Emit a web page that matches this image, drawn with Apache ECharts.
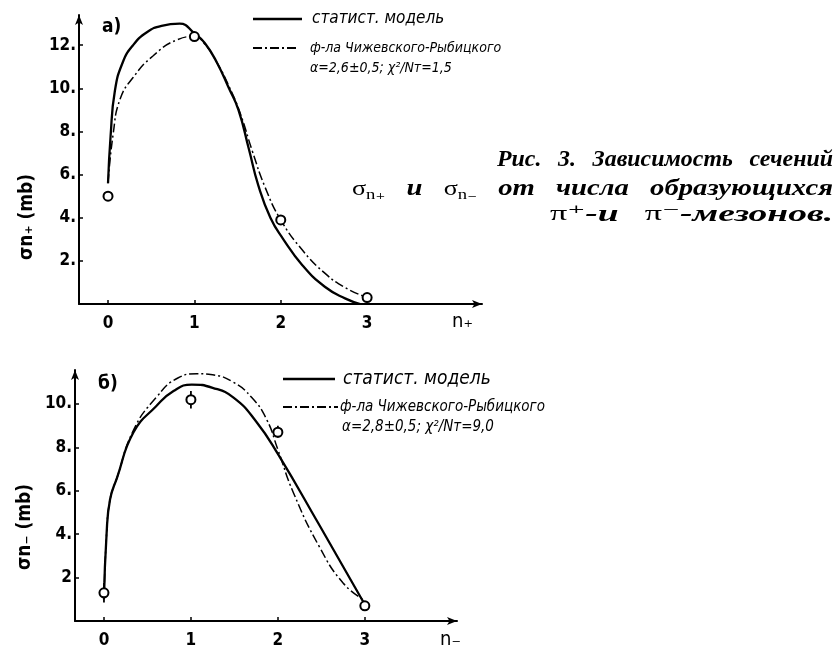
<!DOCTYPE html>
<html><head><meta charset="utf-8">
<script src="https://cdn.jsdelivr.net/npm/echarts@6/dist/echarts.min.js"></script>
<style>html,body{margin:0;padding:0;background:#fff}#c{width:840px;height:654px}</style>
</head><body><div id="c"></div>
<script>
// ---- data ----
const xTicks = [0, 1, 2, 3];
const yTicksTop = [2, 4, 6, 8, 10, 12];
const yTicksBot = [2, 4, 6, 8, 10];

// panel a) sigma_{n+}
const topPoints = [[0, 5.0], [1, 12.4], [2, 3.9], [3, 0.3]];
const topModel = [[0, 5.6], [0.03, 7.8], [0.08, 9.9], [0.17, 11.2], [0.29, 12.0], [0.45, 12.6], [0.62, 12.9], [0.83, 13.0], [1.0, 12.55], [1.12, 12.1], [1.26, 11.2], [1.4, 10.0], [1.51, 9.0], [1.63, 7.2], [1.74, 5.5], [1.88, 4.0], [2.03, 3.0], [2.25, 1.8], [2.51, 0.8], [2.75, 0.25], [2.92, 0.0]];
const topFormula = [[0, 5.6], [0.06, 7.9], [0.14, 9.5], [0.29, 10.5], [0.52, 11.5], [0.8, 12.25], [1.0, 12.4], [1.12, 12.05], [1.26, 11.2], [1.4, 10.1], [1.53, 8.85], [1.67, 7.1], [1.82, 5.4], [2.0, 3.9], [2.25, 2.5], [2.51, 1.43], [2.75, 0.75], [3.0, 0.3]];

// panel б) sigma_{n-}
const botPoints = [[0, 1.3], [1, 10.2], [2, 8.7], [3, 0.7]];
const botErrors = [[0, 0.85, 1.75], [1, 9.8, 10.6], [2, 8.45, 9.0]];
const botModel = [[0, 1.0], [0.03, 4.0], [0.07, 5.6], [0.15, 6.6], [0.34, 8.7], [0.6, 9.9], [0.8, 10.6], [1.01, 10.9], [1.25, 10.75], [1.49, 10.3], [1.75, 9.2], [2.0, 7.7], [2.48, 4.4], [2.98, 0.9]];
const botFormula = [[0, 1.0], [0.03, 4.0], [0.07, 5.6], [0.15, 6.6], [0.34, 8.8], [0.6, 10.3], [0.85, 11.2], [1.07, 11.4], [1.25, 11.35], [1.49, 11.0], [1.7, 10.3], [1.87, 9.3], [2.0, 7.9], [2.18, 5.9], [2.48, 3.4], [2.75, 1.75], [2.98, 1.0]];

// caption text (word groups)
const captionLine1 = [['Рис.'], ['3.'], ['Зависимость'], ['сечений']];
const captionLine2 = [['σ', 'n₊'], ['и'], ['σ', 'n₋'], ['от'], ['числа'], ['образующихся']];
const captionLine3 = [['π⁺', '-и'], ['π⁻', '-мезонов.']];

// ---- chart ----
const DASHDOT = [9, 3, 2, 3];
const numFont = '"Liberation Sans Narrow","DejaVu Sans Condensed",sans-serif';
const handFont = '"DejaVu Sans Condensed","DejaVu Sans",sans-serif';
const capFont = '"Liberation Serif","DejaVu Serif",serif';

function xAx(gi, min, max) {
  return {
    type: 'value', gridIndex: gi, min: min, max: max,
    splitLine: { show: false },
    axisLine: { onZero: false, symbol: ['none', 'arrow'], symbolSize: [6, 10], lineStyle: { color: '#000', width: 2 } },
    axisTick: { inside: true, length: 4, customValues: xTicks, lineStyle: { color: '#000', width: 1.5 } },
    axisLabel: { customValues: xTicks, margin: 11, color: '#000', fontFamily: numFont, fontSize: 17, fontWeight: 'bold' }
  };
}
function yAx(gi, max, ticks, fmt) {
  return {
    type: 'value', gridIndex: gi, min: 0, max: max,
    splitLine: { show: false },
    axisLine: { onZero: false, symbol: ['none', 'arrow'], symbolSize: [6, 10], lineStyle: { color: '#000', width: 2 } },
    axisTick: { inside: true, length: 4, customValues: ticks, lineStyle: { color: '#000', width: 1.5 } },
    axisLabel: { customValues: ticks, margin: 3, color: '#000', fontFamily: numFont, fontSize: 17, fontWeight: 'bold', formatter: fmt }
  };
}
function errBars(xi, yi, data) {
  return {
    type: 'custom', xAxisIndex: xi, yAxisIndex: yi, data: data, z: 3,
    renderItem: function (params, api) {
      const p1 = api.coord([api.value(0), api.value(1)]);
      const p2 = api.coord([api.value(0), api.value(2)]);
      return { type: 'line', shape: { x1: p1[0], y1: p1[1], x2: p2[0], y2: p2[1] }, style: { stroke: '#000', lineWidth: 1.8 } };
    }
  };
}
function curve(xi, yi, data, dashed) {
  return {
    type: 'line', xAxisIndex: xi, yAxisIndex: yi, data: data, showSymbol: false,
    smooth: 0.5, z: 2,
    lineStyle: { color: '#000', width: dashed ? 1.5 : 2.3, type: dashed ? DASHDOT : 'solid' }
  };
}
function pts(xi, yi, data) {
  return {
    type: 'scatter', xAxisIndex: xi, yAxisIndex: yi, data: data, symbol: 'circle', symbolSize: 9, z: 5,
    itemStyle: { color: '#fff', borderColor: '#000', borderWidth: 2, opacity: 1 }
  };
}

function txt(x, y, s, size, extra) {
  return { type: 'text', x: x, y: y, style: Object.assign({ text: s, fontSize: size, verticalAlign: 'middle', fill: '#000', fontFamily: handFont, fontStyle: 'italic' }, extra || {}) };
}
function seg(x1, x2, y, dashed) {
  return { type: 'line', shape: { x1: x1, y1: y, x2: x2, y2: y }, style: { stroke: '#000', lineWidth: dashed ? 1.8 : 2.3, lineDash: dashed ? DASHDOT : null } };
}

// caption layout: word groups with spacing, the line stretched to its width in the figure
const mctx = document.createElement('canvas').getContext('2d');
const boldSpec = { fontSize: 23, fontFamily: capFont, fontWeight: 'bold', fontStyle: 'italic' };
const romSpec = { fontSize: 21, fontFamily: capFont, fontWeight: 'normal', fontStyle: 'normal' };
const subSpec = { fontSize: 15, fontFamily: capFont, fontWeight: 'normal', fontStyle: 'normal' };
function cssFont(s) { return s.fontStyle + ' ' + s.fontWeight + ' ' + s.fontSize + 'px ' + s.fontFamily; }
function measure(t, s) { mctx.font = cssFont(s); return mctx.measureText(t).width; }
function stretchLine(groups, specsFor, x0, x1, y, gapPx) {
  const items = [];
  let off = 0;
  groups.forEach(function (g, gi) {
    if (gi > 0) off += gapPx;
    g.forEach(function (t, i) {
      const sp = specsFor(g, i);
      items.push({ t: t, sp: sp, off: off });
      off += measure(t, sp.spec);
    });
  });
  const s = (x1 - x0) / off;
  return items.map(function (it) {
    return { type: 'text', x: x0 + it.off * s, y: y + (it.sp.dy || 0), scaleX: s,
      style: Object.assign({ text: it.t, fill: '#000', verticalAlign: 'middle' }, it.sp.spec) };
  });
}
const cap1 = stretchLine(captionLine1, function () { return { spec: boldSpec }; }, 497, 833, 160, 16);
const cap2 = stretchLine(captionLine2, function (g, i) {
  if (g.length === 2) return i === 0 ? { spec: romSpec } : { spec: subSpec, dy: 6 };
  return { spec: boldSpec };
}, 352, 833, 189, 17);
const cap3 = stretchLine(captionLine3, function (g, i) { return i === 0 ? { spec: romSpec, dy: -1 } : { spec: boldSpec }; }, 550, 833, 215, 16);

const chart = echarts.init(document.getElementById('c'), null, { renderer: 'canvas' });
chart.setOption({
  animation: false,
  backgroundColor: '#fff',
  grid: [
    { left: 79, right: 358, top: 15, bottom: 350 },
    { left: 75, right: 383, top: 370, bottom: 33 }
  ],
  xAxis: [xAx(0, -0.336, 4.33), xAx(1, -0.333, 4.06)],
  yAxis: [
    yAx(0, 13.4, yTicksTop, function (v) { return v + '.'; }),
    yAx(1, 11.57, yTicksBot, function (v) { return v === 2 ? '2' : v + '.'; })
  ],
  series: [
    curve(0, 0, topModel, false),
    curve(0, 0, topFormula, true),
    pts(0, 0, topPoints),
    curve(1, 1, botModel, false),
    curve(1, 1, botFormula, true),
    errBars(1, 1, botErrors),
    pts(1, 1, botPoints)
  ],
  graphic: [
    txt(102, 27, 'а)', 19, { fontStyle: 'normal', fontFamily: numFont, fontWeight: 'bold' }),
    txt(98, 384, 'б)', 19, { fontStyle: 'normal', fontFamily: numFont, fontWeight: 'bold' }),
    { type: 'text', x: 27, y: 217, rotation: Math.PI / 2, style: { text: 'σn₊ (mb)', fontSize: 19, fontFamily: numFont, fontWeight: 'bold', fill: '#000', align: 'center', verticalAlign: 'middle' } },
    { type: 'text', x: 25, y: 527, rotation: Math.PI / 2, style: { text: 'σn₋ (mb)', fontSize: 19, fontFamily: numFont, fontWeight: 'bold', fill: '#000', align: 'center', verticalAlign: 'middle' } },
    txt(452, 322, 'n₊', 20, { fontStyle: 'normal', fontFamily: numFont }),
    txt(440, 640, 'n₋', 20, { fontStyle: 'normal', fontFamily: numFont }),
    seg(253, 302, 19, false),
    txt(312, 19, 'статист. модель', 17),
    seg(253, 299, 48, true),
    txt(310, 48, 'ф-ла Чижевского-Рыбицкого', 14),
    txt(310, 68, 'α=2,6±0,5; χ²/Nт=1,5', 14),
    seg(283, 335, 379, false),
    txt(343, 379, 'статист. модель', 19),
    seg(283, 338, 407, true),
    txt(340, 407, 'ф-ла Чижевского-Рыбицкого', 15),
    txt(342, 427, 'α=2,8±0,5; χ²/Nт=9,0', 15)
  ].concat(cap1, cap2, cap3)
});
</script></body></html>
